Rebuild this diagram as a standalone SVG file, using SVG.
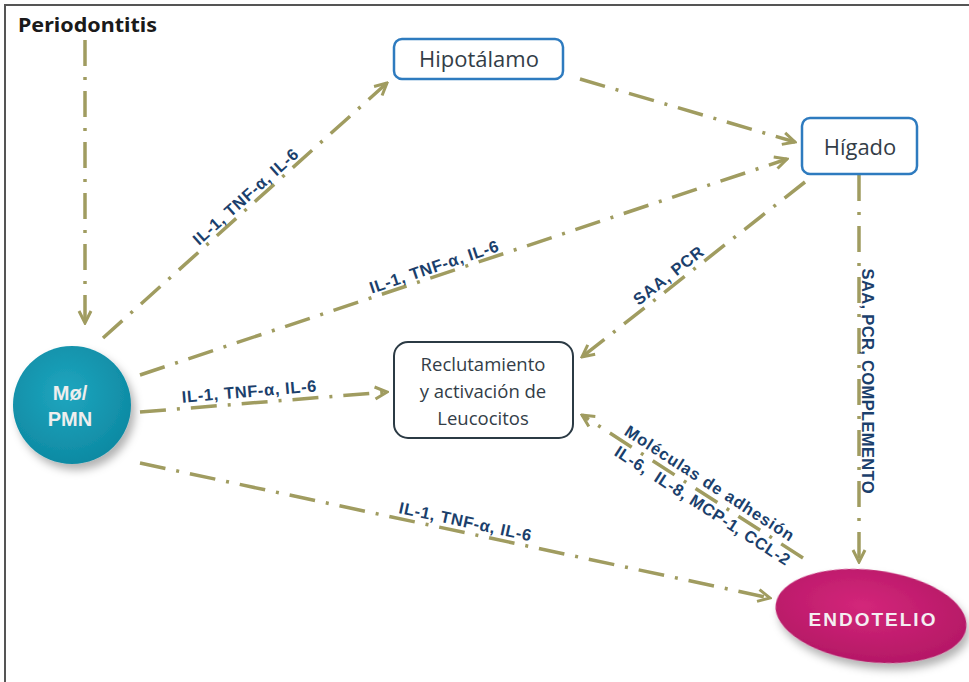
<svg xmlns="http://www.w3.org/2000/svg" width="969" height="682" viewBox="0 0 969 682">
  <style>
    .conn { fill: none; stroke: #a09c60; stroke-width: 3.5; stroke-dasharray: 26 11 3 11; marker-end: url(#arr); }
    .lbl { font-family: "Liberation Sans", Arial, sans-serif; font-weight: bold; font-size: 16.5px; fill: #1b3f6c; }
    .boxB { fill: #ffffff; stroke: #2e7bbf; stroke-width: 2.5; }
    .boxK { fill: #ffffff; stroke: #2b3a44; stroke-width: 2; }
    .bt { font-family: "Open Sans", "Noto Sans", sans-serif; fill: #333d47; text-anchor: middle; }
    .wt { font-family: "Liberation Sans", Arial, sans-serif; font-weight: bold; text-anchor: middle; }
  </style>
  <defs>
    <marker id="arr" markerUnits="userSpaceOnUse" viewBox="0 0 16 16" markerWidth="16" markerHeight="16" refX="14" refY="8" orient="auto">
      <path d="M2,2 L14,8 L2,14" fill="none" stroke="#a09c60" stroke-width="3" stroke-dasharray="none"/>
    </marker>
    <filter id="sh" x="-30%" y="-30%" width="170%" height="170%">
      <feGaussianBlur in="SourceAlpha" stdDeviation="4"/>
      <feOffset dx="4" dy="6" result="b"/>
      <feFlood flood-color="#000" flood-opacity="0.3"/>
      <feComposite in2="b" operator="in"/>
      <feMerge><feMergeNode/><feMergeNode in="SourceGraphic"/></feMerge>
    </filter>
    <radialGradient id="gT" cx="45%" cy="40%" r="60%">
      <stop offset="0" stop-color="#1fa6bf"/>
      <stop offset="1" stop-color="#0e8aa3"/>
    </radialGradient>
    <radialGradient id="gE" cx="45%" cy="40%" r="60%">
      <stop offset="0" stop-color="#d3267a"/>
      <stop offset="1" stop-color="#b51866"/>
    </radialGradient>
  </defs>

  <rect width="969" height="682" fill="#ffffff"/>
  <path d="M5,682 V5 H969" fill="none" stroke="#555" stroke-width="2"/>

  <g id="connectors">
    <path class="conn" d="M85,40 V323"/>
    <path class="conn" d="M103,338 L387,83"/>
    <path class="conn" d="M140,375 L787,159"/>
    <path class="conn" d="M140,412 L387,392"/>
    <path class="conn" d="M140,463 L770,598"/>
    <path class="conn" d="M580,79 L795,142"/>
    <path class="conn" d="M805,182 L582,357"/>
    <path class="conn" d="M859,175 L859,562"/>
    <path class="conn" d="M803,558 L582,415"/>

    <text class="lbl" text-anchor="middle" transform="translate(252,204) rotate(-41.9)" y="-4" textLength="135" lengthAdjust="spacing">IL-1, TNF-α, IL-6</text>
    <text class="lbl" text-anchor="middle" transform="translate(437,276) rotate(-18.5)" y="-4" textLength="135" lengthAdjust="spacing">IL-1, TNF-α, IL-6</text>
    <text class="lbl" text-anchor="middle" transform="translate(250,403) rotate(-4.8)" y="-6" textLength="135" lengthAdjust="spacing">IL-1, TNF-α, IL-6</text>
    <text class="lbl" text-anchor="middle" transform="translate(463,532) rotate(12.1)" y="-5" textLength="135" lengthAdjust="spacing">IL-1, TNF-α, IL-6</text>
    <text class="lbl" text-anchor="middle" transform="translate(675,284) rotate(-38.1)" y="-5" textLength="84" lengthAdjust="spacing">SAA, PCR</text>
    <text class="lbl" text-anchor="middle" transform="translate(859,381) rotate(90)" y="-3" textLength="225" lengthAdjust="spacing">SAA, PCR, COMPLEMENTO</text>
    <text class="lbl" text-anchor="middle" transform="translate(703,493) rotate(32.9)" y="-6" textLength="198" lengthAdjust="spacing">Moléculas de adhesión</text>
    <text class="lbl" text-anchor="middle" xml:space="preserve" transform="translate(708,497) rotate(32.9)" y="16" textLength="205" lengthAdjust="spacing">IL-6,  IL-8, MCP-1, CCL-2</text>
  </g>

  <g id="periodontitis">
    <text x="18" y="32" font-family="'Noto Sans', 'Open Sans', sans-serif" font-weight="bold" font-size="20" fill="#1a1a1a" textLength="139" lengthAdjust="spacingAndGlyphs">Periodontitis</text>
  </g>

  <g id="hipotalamo">
    <rect class="boxB" x="394" y="39" width="169" height="40" rx="8"/>
    <text class="bt" x="479" y="67" font-size="22">Hipotálamo</text>
  </g>

  <g id="higado">
    <rect class="boxB" x="802" y="118" width="115" height="56" rx="8"/>
    <text class="bt" x="860" y="155" font-size="22">Hígado</text>
  </g>

  <g id="reclutamiento">
    <rect class="boxK" x="394" y="342" width="179" height="96" rx="14"/>
    <text class="bt" x="483" y="371" font-size="18.5">Reclutamiento</text>
    <text class="bt" x="483" y="398" font-size="18.5">y activación de</text>
    <text class="bt" x="483" y="425" font-size="18.5">Leucocitos</text>
  </g>

  <g id="mo-pmn">
    <circle cx="72" cy="405" r="59" fill="url(#gT)" filter="url(#sh)"/>
    <text class="wt" x="70" y="400" font-size="20" fill="#eeeeee">Mø/</text>
    <text class="wt" x="70" y="426" font-size="20" fill="#eeeeee">PMN</text>
  </g>

  <g id="endotelio">
    <ellipse cx="871" cy="616" rx="96" ry="46" transform="rotate(7 871 616)" fill="url(#gE)" filter="url(#sh)"/>
    <text class="wt" x="873" y="626" font-size="19" letter-spacing="2" fill="#f4eef2">ENDOTELIO</text>
  </g>
</svg>
